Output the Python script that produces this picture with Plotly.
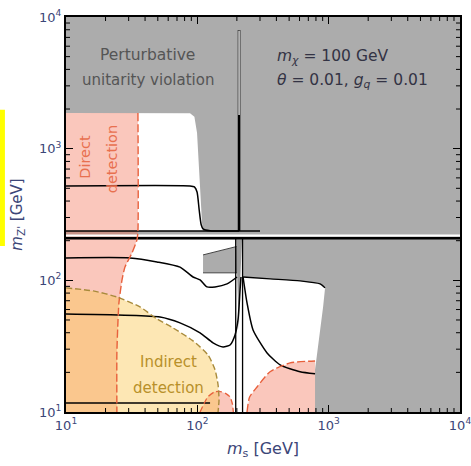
import math
import plotly.graph_objects as go

# ---------------- data (m_s, m_Z' in GeV) ----------------
tick_vals = [10, 100, 1000, 10000]
tick_text = ["10<sup>1</sup>", "10<sup>2</sup>", "10<sup>3</sup>", "10<sup>4</sup>"]
minor_vals = [m * 10 ** k for k in range(1, 4) for m in range(2, 10)]

# allowed (white) regions
white_up_ms = [10, 88, 95, 99.5, 108.6, 110.5, 110.5, 10]
white_up_mz = [1867, 1860, 1750, 1316, 273, 250, 237, 237]
white_low_ms = [10, 222.9, 222.9, 10]
white_low_mz = [205, 205, 10, 10]
white_right_ms = [222.9, 357.9, 605.6, 860, 938.8, 906.8, 860, 816, 787.6, 787.6, 222.9]
white_right_mz = [106, 102.5, 99, 93.9, 87.6, 62.8, 42, 29.6, 20.9, 10, 10]

# excluded islands (gray) below the resonance band
block_ms = [110.5, 200.6, 200.6, 110.5]
block_mz = [156, 181, 114, 114]
taper_ms = [198, 219, 213, 207, 201]
taper_mz = [205, 205, 110, 42, 110]

# direct detection
dd_ms = [10, 35.3, 35.3, 34.7, 31.8, 28.1, 26.7, 25.3, 24.9, 24.4, 24.4, 10]
dd_mz = [1867, 1867, 237, 203, 161.5, 126, 100.7, 67.4, 50, 28.1, 10, 10]
dd2_ms = [104.9, 112, 120, 135, 150, 165, 177.5, 185, 188]
dd2_mz = [10, 11.5, 13, 14.2, 14.3, 13.8, 13, 11.5, 10]
dd3_ms = [239, 250, 284.9, 357.9, 508.2, 787.6, 787.6]
dd3_mz = [10, 13, 15.5, 20.2, 23.6, 24.4, 10]

# indirect detection
id_ms = [10, 16.1, 24.4, 36.6, 49.3, 65.3, 92.7, 120.6, 136.4, 143.8, 146.3, 143.8, 10]
id_mz = [87.6, 83.1, 74.8, 62.8, 50.9, 43.5, 34.7, 27.1, 20.9, 16.1, 12.4, 10, 10]

# relic-density contours
c1_ms = [10, 88, 95, 99.5, 103.3, 107, 110.5, 125, 207.8]
c1_mz = [521, 521, 512, 469, 342, 264, 246, 238, 237]
c2_ms = [10, 30.7, 49.3, 73.8, 92.7, 104.9, 118.6, 136.4, 168.3, 200.6]
c2_mz = [148, 148, 138, 126, 106, 100.7, 89.1, 89.1, 93.9, 106]
c3_ms = [10, 52, 73.8, 104.9, 131.7, 156.9, 177.5, 193.7, 204, 211.5, 215]
c3_mz = [55.6, 52.7, 47.5, 39.9, 33.5, 31.2, 32.3, 38.5, 50, 84.6, 106]
c4_ms = [10, 125]
c4_mz = [11.7, 11.7]
c5_ms = [222.9, 239, 265.6, 339.6, 426.6, 605.6, 787.6]
c5_mz = [106, 67.4, 42, 28.1, 22.8, 20.2, 19.5]
top_edge_ms = [222.9, 357.9, 605.6, 860, 938.8]
top_edge_mz = [106, 102.5, 99, 93.9, 87.6]

res_ms = 207.8           # m_s = 2 m_chi resonance
res_lo_ms = [196, 221]
band_mz = [237, 219, 209]  # m_Z' ~ 2 m_chi resonance band
spike_top = 7966
spike_white_top = 7900
spike_white_bot = 1800
x_range = [10, 10000]

GRAY = "#acacac"
PINK = "rgba(240,100,70,0.36)"
YEL = "rgba(250,200,80,0.43)"
RED = "#e8603c"
OLIVE = "#a88a3a"

fig = go.Figure()


def poly(xs, ys, color, line=None):
    fig.add_trace(go.Scatter(x=xs, y=ys, mode="lines", fill="toself", fillcolor=color,
                             line=line or dict(width=0), hoverinfo="skip", showlegend=False))


def curve(xs, ys, color="black", width=1.5, dash=None):
    fig.add_trace(go.Scatter(x=xs, y=ys, mode="lines",
                             line=dict(color=color, width=width, dash=dash, shape="spline", smoothing=0.6),
                             hoverinfo="skip", showlegend=False))


def straight(xs, ys, color="black", width=1.5, dash=None):
    fig.add_trace(go.Scatter(x=xs, y=ys, mode="lines",
                             line=dict(color=color, width=width, dash=dash),
                             hoverinfo="skip", showlegend=False))


# white allowed regions
poly(white_up_ms, white_up_mz, "white")
poly(white_low_ms, white_low_mz, "white")
poly(white_right_ms, white_right_mz, "white")
# gray islands
poly(block_ms, block_mz, GRAY, dict(color="#444", width=1))
poly(taper_ms, taper_mz, "#9a9a9a")

# detection regions
poly(dd_ms, dd_mz, PINK)
poly(dd2_ms, dd2_mz, PINK)
poly(dd3_ms, dd3_mz, PINK)
poly(id_ms, id_mz, YEL)

# band lines
straight(x_range, [band_mz[1]] * 2, "white", 2)
straight(x_range, [band_mz[2]] * 2, "black", 2.5)
straight([10, 300], [band_mz[0]] * 2, "black", 1.3)

# relic contours
curve(c1_ms, c1_mz)
curve(c2_ms, c2_mz)
curve(c3_ms, c3_mz)
straight(c4_ms, c4_mz)
curve(c5_ms, c5_mz)
curve(top_edge_ms, top_edge_mz, "black", 1.3)
for xv in res_lo_ms:
    straight([xv, xv], [band_mz[2], 10], "black", 1.3)
straight([res_ms, res_ms], [spike_top, band_mz[0]], "black", 2.6)
straight([res_ms, res_ms], [spike_white_top, spike_white_bot], "white", 1.3)

# dashed outlines
curve(dd_ms[1:11], dd_mz[1:11], RED, 1.4, "8px,3px")
curve(dd2_ms, dd2_mz, RED, 1.3, "6px,3px")
curve(dd3_ms[:6], dd3_mz[:6], RED, 1.4, "8px,3px")
curve(id_ms[:12], id_mz[:12], OLIVE, 1.4, "6px,3px")

FONT = "DejaVu Sans"
ann = [
    dict(x=0.208, y=0.904, text="Perturbative", font=dict(size=15.5, color="#555555")),
    dict(x=0.208, y=0.840, text="unitarity violation", font=dict(size=15, color="#555555")),
    dict(x=0.530, y=0.899, xanchor="left",
         text="<i>m</i><sub><i>χ</i></sub> = 100 GeV", font=dict(size=15.5, color="#333344")),
    dict(x=0.530, y=0.838, xanchor="left",
         text="<i>θ</i> = 0.01, <i>g</i><sub><i>q</i></sub> = 0.01", font=dict(size=15.5, color="#333344")),
    dict(x=0.048, y=0.646, text="Direct", textangle=-90, font=dict(size=14.5, color="#e8704f")),
    dict(x=0.117, y=0.640, text="detection", textangle=-90, font=dict(size=14.5, color="#e8704f")),
    dict(x=0.259, y=0.127, text="Indirect", font=dict(size=15, color="#b8902a")),
    dict(x=0.259, y=0.061, text="detection", font=dict(size=15, color="#b8902a")),
]
for a in ann:
    a.setdefault("xanchor", "center")
    a.update(xref="paper", yref="paper", yanchor="middle", showarrow=False)
    a["font"]["family"] = FONT

# minor ticks on all four sides (inside), positioned from the log scale
PW, PH = 394.0, 395.0
MINOR_LEN = 4.0
shapes = [dict(type="rect", xref="paper", yref="paper", x0=-0.1675, x1=-0.155,
               y0=0.42, y1=0.765, fillcolor="#ffff00", line=dict(width=0), layer="above")]
for v in minor_vals:
    f = (math.log10(v) - 1) / 3.0
    for y0, y1 in [(0, MINOR_LEN / PH), (1, 1 - MINOR_LEN / PH)]:
        shapes.append(dict(type="line", xref="paper", yref="paper", x0=f, x1=f, y0=y0, y1=y1,
                           line=dict(color="black", width=1), layer="above"))
    for x0, x1 in [(0, MINOR_LEN / PW), (1, 1 - MINOR_LEN / PW)]:
        shapes.append(dict(type="line", xref="paper", yref="paper", x0=x0, x1=x1, y0=f, y1=f,
                           line=dict(color="black", width=1), layer="above"))

axis_common = dict(
    type="log", range=[1, 4], tickmode="array", tickvals=tick_vals, ticktext=tick_text,
    ticks="inside", ticklen=7, tickwidth=1.3, tickcolor="black",
    showline=True, linewidth=2, linecolor="black", mirror="allticks",
    showgrid=False, zeroline=False, layer="above traces", automargin=False,
    ticklabeloverflow="allow",
    tickfont=dict(family=FONT, size=13, color="#3c4678"),
)

fig.update_layout(
    width=471, height=466,
    margin=dict(l=66, r=11, t=17, b=54, autoexpand=False),
    paper_bgcolor="white", plot_bgcolor=GRAY,
    xaxis=dict(axis_common, title=dict(text="<i>m</i><sub>s</sub> [GeV]", standoff=11,
                                       font=dict(family=FONT, size=16, color="#3c4678"))),
    yaxis=dict(axis_common, title=dict(text="<i>m</i><sub>Z'</sub> [GeV]", standoff=13,
                                       font=dict(family=FONT, size=15, color="#3c4678"))),
    annotations=ann,
    shapes=shapes,
)

fig.write_html("out.html")
